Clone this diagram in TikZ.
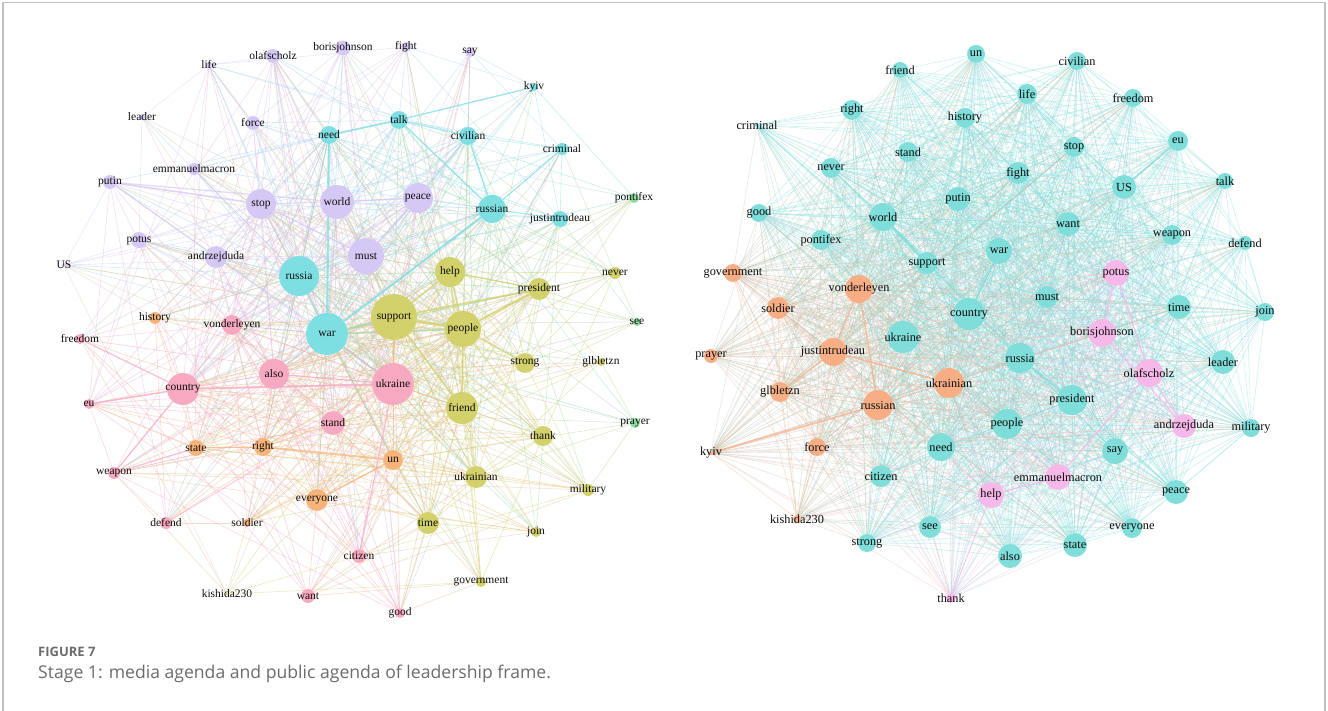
\documentclass[tikz,border=0pt]{standalone}
\usepackage{fontspec}
\setmainfont{Liberation Serif}
\newfontfamily\capfont{Open Sans}

\pgfdeclarelayer{edges}
\pgfsetlayers{edges,main}

% node colours
\definecolor{lp}{HTML}{D6C8F5}
\definecolor{lc}{HTML}{7EDFE3}
\definecolor{lo}{HTML}{D2D16B}
\definecolor{lk}{HTML}{F8A9C2}
\definecolor{lr}{HTML}{F7B47A}
\definecolor{lg}{HTML}{8FDD9E}
\definecolor{rc}{HTML}{7FDDDA}
\definecolor{ro}{HTML}{F7AE85}
\definecolor{rk}{HTML}{F5B8E9}

% name / x / y / radius / weight / colour
\def\Lnodes{borisjohnson/343/48/7.5/9/lp, fight/406/47/5/7/lp, say/470/52/5/6/lp,
olafscholz/273/56/7/9/lp, life/209/65/3/5/lp, kyiv/534/87/4/6/lc, leader/142/117/3/5/lp,
force/253/123/7/8/lp, talk/399/120/9/10/lc, need/329/135/9/10/lc, civilian/468/136/9/10/lc,
criminal/562/149/6/7/lc, emmanuelmacron/194/169/6/7/lp, putin/110/182/7/8/lp,
stop/261/204/15/14/lp, world/337/202/17/15/lp, peace/418/198/15/14/lp, russian/492/209/14/13/lc,
justintrudeau/560/219/8/9/lc, pontifex/634/198/5/5/lg, potus/139/240/8/8/lp,
andrzejduda/216/257/11/10/lp, must/366/256/18/16/lp, russia/299/276/20/17/lc, US/64/265/2/5/lp,
help/450/272/15/14/lo, never/615/273/6/7/lo, president/539/289/11/12/lo, history/155/318/6/7/lr,
vonderleyen/232/325/10/10/lk, war/327/334/21/19/lc, support/394/317/23/20/lo,
people/463/329/18/17/lo, freedom/80/339/5/7/lk, see/637/322/4/5/lg, also/274/374/15/13/lk,
country/183/389/16/14/lk, ukraine/393/384/21/19/lk, strong/525/363/10/10/lo,
glbletzn/601/362/4/6/lo, eu/89/404/5/7/lk, friend/462/408/16/14/lo, stand/333/423/12/12/lk,
prayer/635/423/5/5/lg, thank/543/436/10/10/lo, state/196/448/8/9/lr, right/263/447/9/10/lr,
un/393/460/10/10/lr, weapon/114/473/6/7/lk, ukrainian/476/477/11/11/lo, military/588/490/6/7/lo,
everyone/317/500/11/11/lr, defend/166/523/6/7/lk, soldier/247/523/4/6/lr, time/428/523/11/11/lo,
join/536/532/5/6/lo, citizen/359/556/7/8/lk, government/481/582/5/7/lo,
kishida230/227/594/1.5/5/lo, want/308/596/7/8/lk, good/400/613/5/7/lk}

\def\Rnodes{un/976/54/9/12/rc, civilian/1077/61/9/12/rc, friend/900/70/8/11/rc,
life/1027/94/10/12/rc, freedom/1133/98/9/12/rc, right/852/110/10/12/rc, history/965/118/10/12/rc,
criminal/757/125/2/8/rc, stop/1074/147/10/12/rc, eu/1178/141/10/12/rc, stand/908/152/10/12/rc,
never/831/168/10/12/rc, fight/1018/173/11/13/rc, US/1124/187/12/13/rc, talk/1225/181/8/11/rc,
putin/958/199/12/13/rc, good/759/213/9/11/rc, world/883/217/14/14/rc, want/1068/224/12/13/rc,
pontifex/821/240/10/12/rc, weapon/1172/235/10/12/rc, defend/1245/243/7/10/rc, war/999/251/13/14/rc,
support/927/263/11/13/rc, government/733/273/9/11/ro, potus/1116/273/13/12/rk,
vonderleyen/859/289/14/13/ro, must/1047/297/11/13/rc, soldier/778/308/11/12/ro,
country/969/314/16/14/rc, time/1179/307/12/13/rc, join/1265/312/9/11/rc,
borisjohnson/1102/333/14/13/rk, ukraine/903/337/16/14/rc, prayer/711/356/7/10/ro,
justintrudeau/833/352/14/13/ro, russia/1020/358/15/14/rc, leader/1223/362/12/12/rc,
olafscholz/1149/373/14/13/rk, ukrainian/949/383/15/14/ro, glbletzn/780/392/10/12/ro,
president/1072/400/15/14/rc, russian/878/405/15/14/ro, people/1007/424/15/14/rc,
andrzejduda/1184/426/12/12/rk, military/1251/428/9/11/rc, kyiv/711/453/2/9/ro,
force/817/447/9/11/ro, need/941/447/14/14/rc, say/1115/451/13/13/rc, citizen/881/476/11/12/rc,
emmanuelmacron/1058/477/13/12/rk, help/991/495/13/12/rk, peace/1176/492/12/13/rc,
kishida230/797/519/4/9/ro, see/930/527/11/12/rc, everyone/1132/528/10/12/rc,
strong/867/543/9/11/rc, state/1075/545/12/13/rc, also/1010/556/12/13/rc, thank/951/598/5/10/rk}

\tikzset{
  dot/.style={circle, inner sep=0pt, draw=none},
  lblL/.style={inner sep=0pt, text=black!95, font=\fontsize{11.5}{12}\selectfont},
  lblR/.style={inner sep=0pt, text=black!95, font=\fontsize{12.3}{13}\selectfont},
  link/.style={opacity=0.5},
  rlink/.style={opacity=0.42, line width=0.55pt},
  heavy/.style={opacity=0.7}
}

\begin{document}
\begin{tikzpicture}[x=1pt, y=-1pt]
\useasboundingbox (0,0) rectangle (1328,711);
\pgfmathsetseed{4217}

% frame
\draw[line width=1.6pt, draw=black!25] (3,711) -- (3,2.5) -- (1325,2.5) -- (1325,711);

% ---------- media agenda network ----------
\foreach \n/\x/\y/\r/\w/\c in \Lnodes {
  \node[dot, fill=\c, minimum size=2*\r] (L-\n) at (\x,\y) {};
}
\begin{pgfonlayer}{edges}
\foreach \na/\xa/\ya/\ra/\wa/\ca [count=\i] in \Lnodes {
  \foreach \nb/\xb/\yb/\rb/\wb/\cb [count=\j] in \Lnodes {
    \ifnum\j>\i
      \pgfmathsetmacro\p{\wa*\wb/190*250/(100*veclen((\xa-\xb)/100,(\ya-\yb)/100)+100)}
      \pgfmathsetmacro\q{rnd}
      \pgfmathtruncatemacro\keep{\q<\p ? 1 : 0}
      \ifnum\keep=1
        \pgfmathsetmacro\lw{0.45+\wa*\wb/550}
        \draw[link, draw=\ca!50!\cb, line width=\lw pt] (L-\na) -- (L-\nb);
      \fi
    \fi
  }
}
\foreach \a/\b/\c/\lw in {need/war/lc/2.2, talk/need/lc/1.8, talk/kyiv/lc/1.3, talk/civilian/lc/1.2,
  talk/russian/lc/1.3, civilian/russian/lc/1.5, russian/war/lc/2.2, russian/criminal/lc/1.0,
  russian/justintrudeau/lc/1.0, putin/stop/lp/1.6, putin/world/lp/1.2, putin/andrzejduda/lp/1.0,
  stop/must/lp/1.4, world/peace/lp/1.2, peace/must/lp/1.6, force/life/lp/1.0,
  support/people/lo/3.0, support/president/lo/1.8, people/president/lo/2.4,
  support/war/lo!50!lc/2.0, war/people/lo!50!lc/1.8, support/help/lo/1.5, help/people/lo/1.5,
  support/friend/lo/1.5, people/friend/lo/1.5, people/strong/lo/1.3, ukraine/country/lk/2.0,
  country/eu/lk/1.5, country/freedom/lk/1.3, country/weapon/lk/1.3, state/weapon/lk/1.3,
  also/ukraine/lk/1.2, right/un/lr/2.0, un/everyone/lr/1.4, state/right/lr/1.2,
  ukraine/support/lr/1.6, ukraine/citizen/lk/1.0, help/president/lo/1.2, war/ukraine/lk!50!lc/1.6} {
  \draw[heavy, draw=\c, line width=\lw pt] (L-\a) -- (L-\b);
}
\end{pgfonlayer}
\foreach \n/\x/\y/\r/\w/\c in \Lnodes {
  \node[lblL] (L-\n-t) at (\x,\y) {\n};
}

% ---------- public agenda network ----------
\foreach \n/\x/\y/\r/\w/\c in \Rnodes {
  \node[dot, fill=\c, minimum size=2*\r] (R-\n) at (\x,\y) {};
}
\begin{pgfonlayer}{edges}
\foreach \na/\xa/\ya/\ra/\wa/\ca [count=\i] in \Rnodes {
  \foreach \nb/\xb/\yb/\rb/\wb/\cb [count=\j] in \Rnodes {
    \ifnum\j>\i
      \pgfmathsetmacro\p{\wa*\wb/175}
      \pgfmathsetmacro\q{rnd}
      \pgfmathtruncatemacro\keep{\q<\p ? 1 : 0}
      \ifnum\keep=1
        \draw[rlink, draw=\ca!50!\cb] (R-\na) -- (R-\nb);
      \fi
    \fi
  }
}
\foreach \a/\b/\c/\lw in {russian/kyiv/ro/2.0, justintrudeau/ukrainian/ro/1.5, vonderleyen/russian/ro/1.5,
  vonderleyen/justintrudeau/ro/1.3, glbletzn/justintrudeau/ro/1.2, potus/borisjohnson/rk/1.8,
  borisjohnson/andrzejduda/rk/1.6, potus/olafscholz/rk/1.4, olafscholz/emmanuelmacron/rk/1.4,
  olafscholz/andrzejduda/rk/1.4, emmanuelmacron/help/rk/1.2, thank/help/rk/1.0,
  world/support/rc/2.0, war/country/rc/1.6, russia/president/rc/1.6, US/eu/rc/1.6} {
  \draw[heavy, draw=\c, line width=\lw pt] (R-\a) -- (R-\b);
}
\end{pgfonlayer}
\foreach \n/\x/\y/\r/\w/\c in \Rnodes {
  \node[lblR] (R-\n-t) at (\x,\y) {\n};
}

% ---------- caption ----------
\node[anchor=base west, inner sep=0pt, text=black!58,
      font=\capfont\bfseries\fontsize{13}{15}\selectfont] (figlabel) at (38,656) {FIGURE 7};
\node[anchor=base west, inner sep=0pt, text=black!58,
      font=\capfont\fontsize{17.6}{20}\selectfont] (figcaption) at (38,678)
      {Stage 1: media agenda and public agenda of leadership frame.};
\end{tikzpicture}
\end{document}
